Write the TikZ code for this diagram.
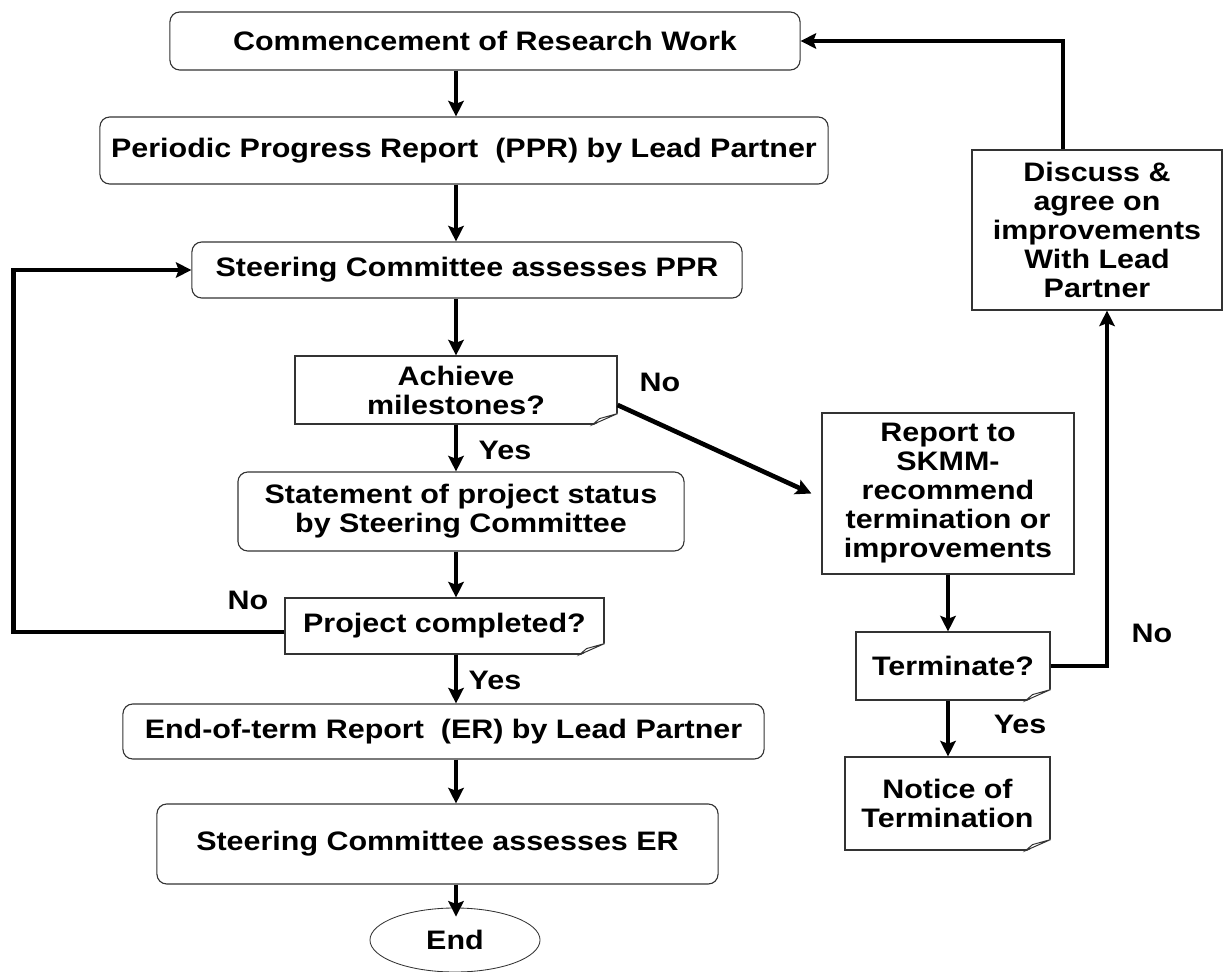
\documentclass[tikz,border=0pt]{standalone}
\usepackage{fontspec}
\setmainfont{Liberation Sans}[FakeStretch=1.14]
\usetikzlibrary{positioning, calc, arrows.meta, shapes.geometric}
\newcommand{\dogear}[1]{%
	\fill[white] ($(#1.south east)+(-25,1)$) -- ($(#1.south east)+(1,1)$) -- ($(#1.south east)+(1,-12)$) -- cycle;
	\draw[line width=0.7pt, black!80] ($(#1.south east)+(-25,0)$) -- ($(#1.south east)+(-18,-6)$) -- ($(#1.south east)+(0,-11)$) -- cycle;
}

\begin{document}
\begin{tikzpicture}[
		x=0.025cm, y=-0.025cm,
		>=stealth,
		txt/.style={font=\bfseries\fontsize{19}{20.6}\selectfont, align=center},
		box/.style={txt, draw=black!80, line width=0.8pt, rounded corners=7pt},
		notebox/.style={txt, draw=black!80, line width=0.8pt},
		plainbox/.style={txt, draw=black!80, line width=0.8pt},
		flow/.style={-{Stealth[length=11pt, width=11pt, inset=2pt]}, line width=3.3pt},
	]
	\useasboundingbox (0,0) rectangle (1224,972);

	\node[box, minimum width=15.75cm, minimum height=1.45cm] (start) at (485,41) {Commencement of Research Work};
	\node[box, minimum width=18.2cm, minimum height=1.675cm] (ppr) at (464,150.5) {Periodic Progress Report\ \ (PPR) by Lead Partner};
	\node[box, minimum width=13.75cm, minimum height=1.4cm] (assess) at (467,270) {Steering Committee assesses PPR};
	\node[notebox, minimum width=8.05cm, minimum height=1.7cm] (miles) at (456,390) {Achieve\\milestones?};
	\node[box, minimum width=11.15cm, minimum height=1.975cm] (status) at (461,511.5) {Statement of project status\\by Steering Committee};
	\node[notebox, minimum width=7.975cm, minimum height=1.4cm] (done) at (444.5,626) {Project completed?};
	\node[box, minimum width=16.025cm, minimum height=1.375cm] (er) at (443.5,731.5) {End-of-term Report\ \ (ER) by Lead Partner};
	\node[box, minimum width=14.025cm, minimum height=2cm] (assesser) at (437.5,844) {Steering Committee assesses ER};
	\node[txt, ellipse, draw=black!80, line width=0.6pt, minimum width=4.25cm, minimum height=1.6cm] (end) at (455,940) {End};

	\node[plainbox, minimum width=6.3cm, minimum height=4.025cm] (report) at (948,493.5) {Report to\\SKMM-\\recommend\\termination or\\improvements};
	\node[notebox, minimum width=4.85cm, minimum height=1.7cm] (term) at (953,666) {Terminate?};
	\node[notebox, minimum width=5.125cm, minimum height=2.325cm] (notice) at (947.5,803.5) {Notice of\\Termination};
	\node[plainbox, minimum width=6.25cm, minimum height=4cm] (discuss) at (1097,230) {Discuss \&\\agree on\\improvements\\With Lead\\Partner};

	\dogear{miles}
	\dogear{done}
	\dogear{term}
	\dogear{notice}

	\node[txt] (no1) at (660,382) {No};
	\node[txt] (yes1) at (505,450) {Yes};
	\node[txt] (no2) at (248,600) {No};
	\node[txt] (yes2) at (495,680) {Yes};
	\node[txt] (no3) at (1152,633) {No};
	\node[txt] (yes3) at (1020,724) {Yes};

	\draw[flow] (start.south -| miles) -- (ppr.north -| miles);
	\draw[flow] (ppr.south -| miles) -- (assess.north -| miles);
	\draw[flow] (assess.south -| miles) -- (miles.north);
	\draw[flow] (miles.south) -- (status.north -| miles);
	\draw[flow] (status.south -| miles) -- (done.north -| miles);
	\draw[flow] (done.south -| miles) -- (er.north -| miles);
	\draw[flow] (er.south -| miles) -- (assesser.north -| miles);
	\draw[flow] (assesser.south -| miles) -- ($(end.north -| miles)+(0,9)$);

	\draw[flow] ($(miles.east)+(0,15)$) -- ($(report.west)+(-10,0)$);
	\draw[flow] ($(done.west)+(0,6)$) -- ++(-271,0) |- (assess.west);

	\draw[flow] (report.south) -- (report.south |- term.north);
	\draw[flow] (term.south -| report) -- (notice.north -| report);
	\draw[flow] (term.east) -| ($(discuss.south)+(10,0)$);
	\draw[flow] ($(discuss.north)+(-34,0)$) |- (start.east);
\end{tikzpicture}
\end{document}
